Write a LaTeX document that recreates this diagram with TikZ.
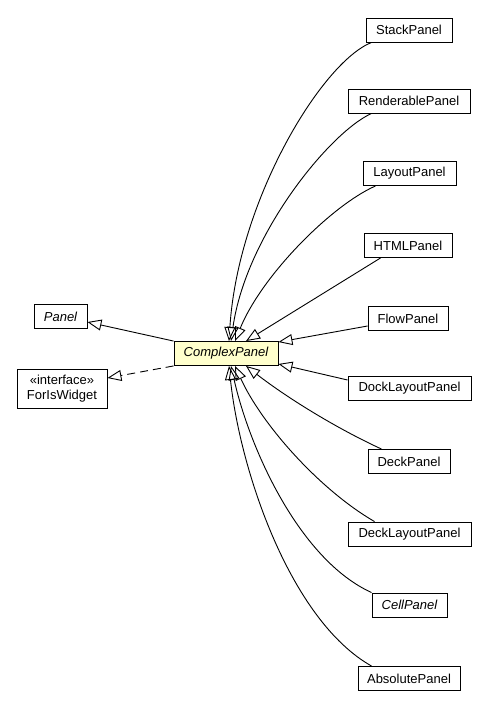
\documentclass[tikz,border=0pt]{standalone}
\usepackage{fontspec}
\setmainfont{Liberation Sans}
\usetikzlibrary{arrows.meta}
\begin{document}
\begin{tikzpicture}[x=1pt,y=-1pt,
  cls/.style={draw, line width=0.9pt, inner sep=0pt, minimum height=24pt, fill=white,
    font=\fontsize{13}{15}\selectfont},
  hub/.style={cls, fill={rgb,255:red,255;green,255;blue,204}},
  inh/.style={line width=0.9pt, -{Triangle[open,length=14pt,width=11pt]}},
  real/.style={inh, dash pattern=on 8pt off 5pt}]
\useasboundingbox (0,0) rectangle (485,707);

\node[hub, minimum width=104pt] (cp) at (226,353.5) {\itshape ComplexPanel};
\node[cls, minimum width=53pt] (panel) at (60.5,316.5) {\itshape Panel};
\node[cls, minimum width=90pt, minimum height=39pt, align=center] (fw) at (62,388.5)
  {«interface»\\ForIsWidget};

\node[cls, minimum width=86pt]  (sp)  at (409,30)    {StackPanel};
\node[cls, minimum width=122pt] (rp)  at (409,101)   {RenderablePanel};
\node[cls, minimum width=93pt]  (lp)  at (409.5,173.5) {LayoutPanel};
\node[cls, minimum width=88pt]  (hp)  at (408,245.5) {HTMLPanel};
\node[cls, minimum width=80pt]  (fp)  at (408,318.5) {FlowPanel};
\node[cls, minimum width=123pt] (dlp) at (409.5,388) {DockLayoutPanel};
\node[cls, minimum width=82pt]  (dp)  at (409,461.5) {DeckPanel};
\node[cls, minimum width=123pt] (dkl) at (409.5,534) {DeckLayoutPanel};
\node[cls, minimum width=75pt]  (cel) at (409.5,605) {\itshape CellPanel};
\node[cls, minimum width=102pt] (ap)  at (409,678.5) {AbsolutePanel};

% parents on the left
\draw[inh] (cp.north west) -- ([yshift=-5.5pt]panel.east);
\draw[real] (cp.south west) -- ([yshift=10.5pt]fw.east);

% upper children
\draw[inh] ([xshift=6pt]sp.south west) .. controls (322,62) and (238,200) .. ([xshift=3pt]cp.north);
\draw[inh] ([xshift=24pt]rp.south west) .. controls (330,132) and (246,235) .. ([xshift=5pt]cp.north);
\draw[inh] ([xshift=13pt]lp.south west) .. controls (332,205) and (262,275) .. ([xshift=9pt]cp.north);
\draw[inh] ([xshift=17pt]hp.south west) -- ([xshift=20pt]cp.north);
\draw[inh] ([yshift=-7.5pt]fp.west) -- ([yshift=-1pt]cp.north east);

% lower children
\draw[inh] ([yshift=8pt]dlp.west) -- ([yshift=2pt]cp.south east);
\draw[inh] ([xshift=14pt]dp.north west) .. controls (340,430) and (290,400) .. ([xshift=20pt]cp.south);
\draw[inh] ([xshift=27pt]dkl.north west) .. controls (320,490) and (262,425) .. ([xshift=9pt]cp.south);
\draw[inh] (cel.north west) .. controls (300,560) and (250,450) .. ([xshift=5pt]cp.south);
\draw[inh] ([xshift=14pt]ap.north west) .. controls (290,620) and (240,470) .. ([xshift=3pt]cp.south);
\end{tikzpicture}
\end{document}
